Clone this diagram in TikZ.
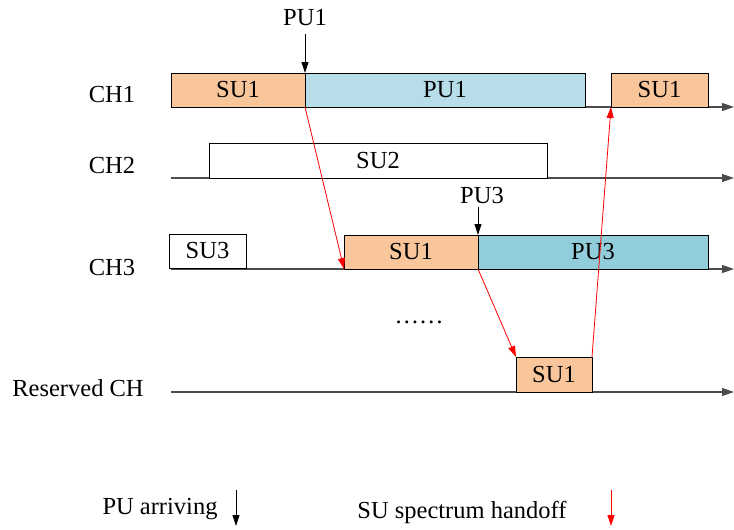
\documentclass[tikz,border=0pt]{standalone}
\usepackage{fontspec}
\setmainfont{Liberation Serif}
\usetikzlibrary{arrows.meta}
\definecolor{suor}{RGB}{249,198,156}
\definecolor{pulb}{RGB}{183,221,232}
\definecolor{pudb}{RGB}{146,205,220}
\tikzset{
  axis/.style={draw=black!70, line width=1.2pt, -{Triangle[length=12pt,width=8pt]}},
  slot/.style={draw=black, line width=0.8pt, rectangle, inner sep=0pt, outer sep=0pt, anchor=south west, font=\fontsize{24.5}{28}\selectfont},
  lbl/.style={font=\fontsize{24.5}{28}\selectfont, inner sep=0pt},
  handoff/.style={draw=red, line width=0.8pt, -{Triangle[length=11pt,width=7pt]}},
  arrive/.style={draw=black, line width=0.9pt, -{Triangle[length=11pt,width=7pt]}}
}
\begin{document}
\begin{tikzpicture}[x=1pt,y=-1pt]
\useasboundingbox (0,0) rectangle (734,530);
% channel labels
\node[lbl] (ch1) at (112,95) {CH1};
\node[lbl] (ch2) at (112,166) {CH2};
\node[lbl] (ch3) at (112,268) {CH3};
\node[lbl] (rch) at (78,388) {Reserved CH};
% axes
\coordinate (a1s) at (171,107); \coordinate (a1e) at (734,107);
\coordinate (a2s) at (171,178); \coordinate (a2e) at (734,178);
\coordinate (a3s) at (171,269); \coordinate (a3e) at (734,269);
\coordinate (a4s) at (171,392); \coordinate (a4e) at (734,392);
\draw[axis] (a1s) -- (a1e);
\draw[axis] (a2s) -- (a2e);
\draw[axis] (a3s) -- (a3e);
\draw[axis] (a4s) -- (a4e);
% CH1 slots
\node[slot, fill=suor, minimum width=134, minimum height=34] (s11) at (171,107) {SU1};
\node[slot, fill=pulb, minimum width=280, minimum height=34] (p1) at (305,107) {PU1};
\node[slot, fill=suor, minimum width=97, minimum height=34] (s12) at (611,107) {SU1};
% CH2
\node[slot, fill=white, minimum width=338, minimum height=35] (s2) at (209,178) {SU2};
% CH3
\node[slot, fill=white, minimum width=77, minimum height=34] (s3) at (169,268) {SU3};
\node[slot, fill=suor, minimum width=134, minimum height=34] (s31) at (344,269) {SU1};
\node[slot, fill=pudb, minimum width=230, minimum height=34] (p3) at (478,269) {PU3};
% reserved
\node[slot, fill=suor, minimum width=76, minimum height=35] (r1) at (516,392) {SU1};
% dots
\node[lbl] (dots) at (419,322) {\textellipsis\textellipsis};
% PU arrivals
\node[lbl] (pu1) at (305,18) {PU1};
\node[lbl] (pu3) at (482,196) {PU3};
\draw[arrive] (305,34) -- (s11.north east);
\draw[arrive] (478,207) -- (s31.north east);
% handoffs
\draw[handoff] (s11.south east) -- (s31.south west);
\draw[handoff] (s31.south east) -- (r1.north west);
\draw[handoff] (r1.north east) -- (s12.south west);
% legend
\node[lbl] (lg1) at (160,509) {PU arriving};
\node[lbl] (lg2) at (462,512) {SU spectrum handoff};
\coordinate (l1a) at (236,490); \coordinate (l1b) at (236,526);
\coordinate (l2a) at (611,490); \coordinate (l2b) at (611,526);
\draw[arrive] (l1a) -- (l1b);
\draw[handoff] (l2a) -- (l2b);
\end{tikzpicture}
\end{document}
